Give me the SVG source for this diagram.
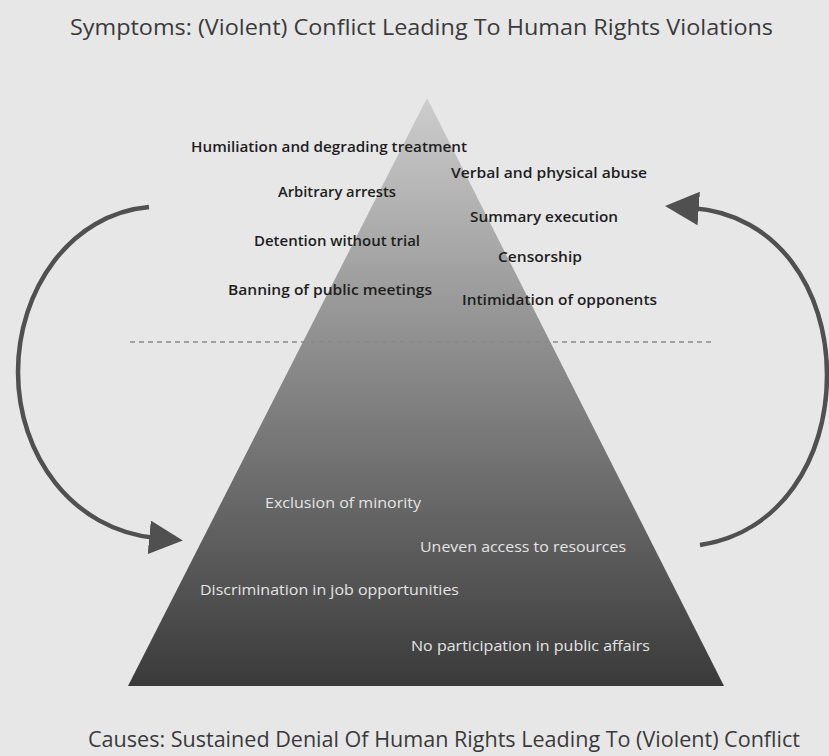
<svg xmlns="http://www.w3.org/2000/svg" width="829" height="756" viewBox="0 0 829 756">
<defs>
<linearGradient id="pg" x1="0" y1="98" x2="0" y2="686" gradientUnits="userSpaceOnUse">
<stop offset="0" stop-color="#cdcdcd"/>
<stop offset="0.45" stop-color="#8a8a8a"/>
<stop offset="1" stop-color="#3a3a3a"/>
</linearGradient>
<marker id="ah" viewBox="0 0 10 10" refX="2" refY="5" markerWidth="7.5" markerHeight="7.5" markerUnits="strokeWidth" orient="auto">
<path d="M0,0 L10,5 L0,10 Z" fill="#505050"/>
</marker>
</defs>
<style>
.t{font-family:"Open Sans","Noto Sans",sans-serif;}
.title{font-size:22px;fill:#3a3a3a;}
.up{font-size:15px;font-weight:600;fill:#1e1e1e;}
.lo{font-size:15px;fill:#e4e4e4;}
.conn{fill:none;stroke:#505050;stroke-width:4.5;}
</style>
<rect width="829" height="756" fill="#e7e7e8"/>
<g id="pyramid">
<polygon points="427,98 724,686 128,686" fill="url(#pg)"/>
<line x1="130" y1="342" x2="714" y2="342" stroke="#8a8a8a" stroke-width="1.3" stroke-dasharray="5,4"/>
</g>
<g id="connectors">
<path class="conn" d="M149,207 C70,214 18,290 18,372 C18,455 72,530 156,538" marker-end="url(#ah)"/>
<path class="conn" d="M700,545 C780,533 827,460 827,375 C827,290 778,214 692,208" marker-end="url(#ah)"/>
</g>
<g id="title-top"><text class="t title" x="70" y="35" textLength="703" lengthAdjust="spacingAndGlyphs">Symptoms: (Violent) Conflict Leading To Human Rights Violations</text></g>
<g id="title-bottom"><text class="t title" x="88" y="747" font-size="23" textLength="712" lengthAdjust="spacingAndGlyphs">Causes: Sustained Denial Of Human Rights Leading To (Violent) Conflict</text></g>
<g id="symptoms">
<text class="t up" x="191" y="152" textLength="276" lengthAdjust="spacingAndGlyphs">Humiliation and degrading treatment</text>
<text class="t up" x="451" y="178" textLength="196" lengthAdjust="spacingAndGlyphs">Verbal and physical abuse</text>
<text class="t up" x="278" y="197" textLength="118" lengthAdjust="spacingAndGlyphs">Arbitrary arrests</text>
<text class="t up" x="470" y="222" textLength="148" lengthAdjust="spacingAndGlyphs">Summary execution</text>
<text class="t up" x="254" y="246" textLength="166" lengthAdjust="spacingAndGlyphs">Detention without trial</text>
<text class="t up" x="498" y="262" textLength="84" lengthAdjust="spacingAndGlyphs">Censorship</text>
<text class="t up" x="228" y="295" textLength="204" lengthAdjust="spacingAndGlyphs">Banning of public meetings</text>
<text class="t up" x="462" y="305" textLength="195" lengthAdjust="spacingAndGlyphs">Intimidation of opponents</text>
</g>
<g id="causes">
<text class="t lo" x="265" y="508" textLength="156" lengthAdjust="spacingAndGlyphs">Exclusion of minority</text>
<text class="t lo" x="420" y="552" textLength="206" lengthAdjust="spacingAndGlyphs">Uneven access to resources</text>
<text class="t lo" x="200" y="595" textLength="259" lengthAdjust="spacingAndGlyphs">Discrimination in job opportunities</text>
<text class="t lo" x="411" y="651" textLength="239" lengthAdjust="spacingAndGlyphs">No participation in public affairs</text>
</g>
</svg>
